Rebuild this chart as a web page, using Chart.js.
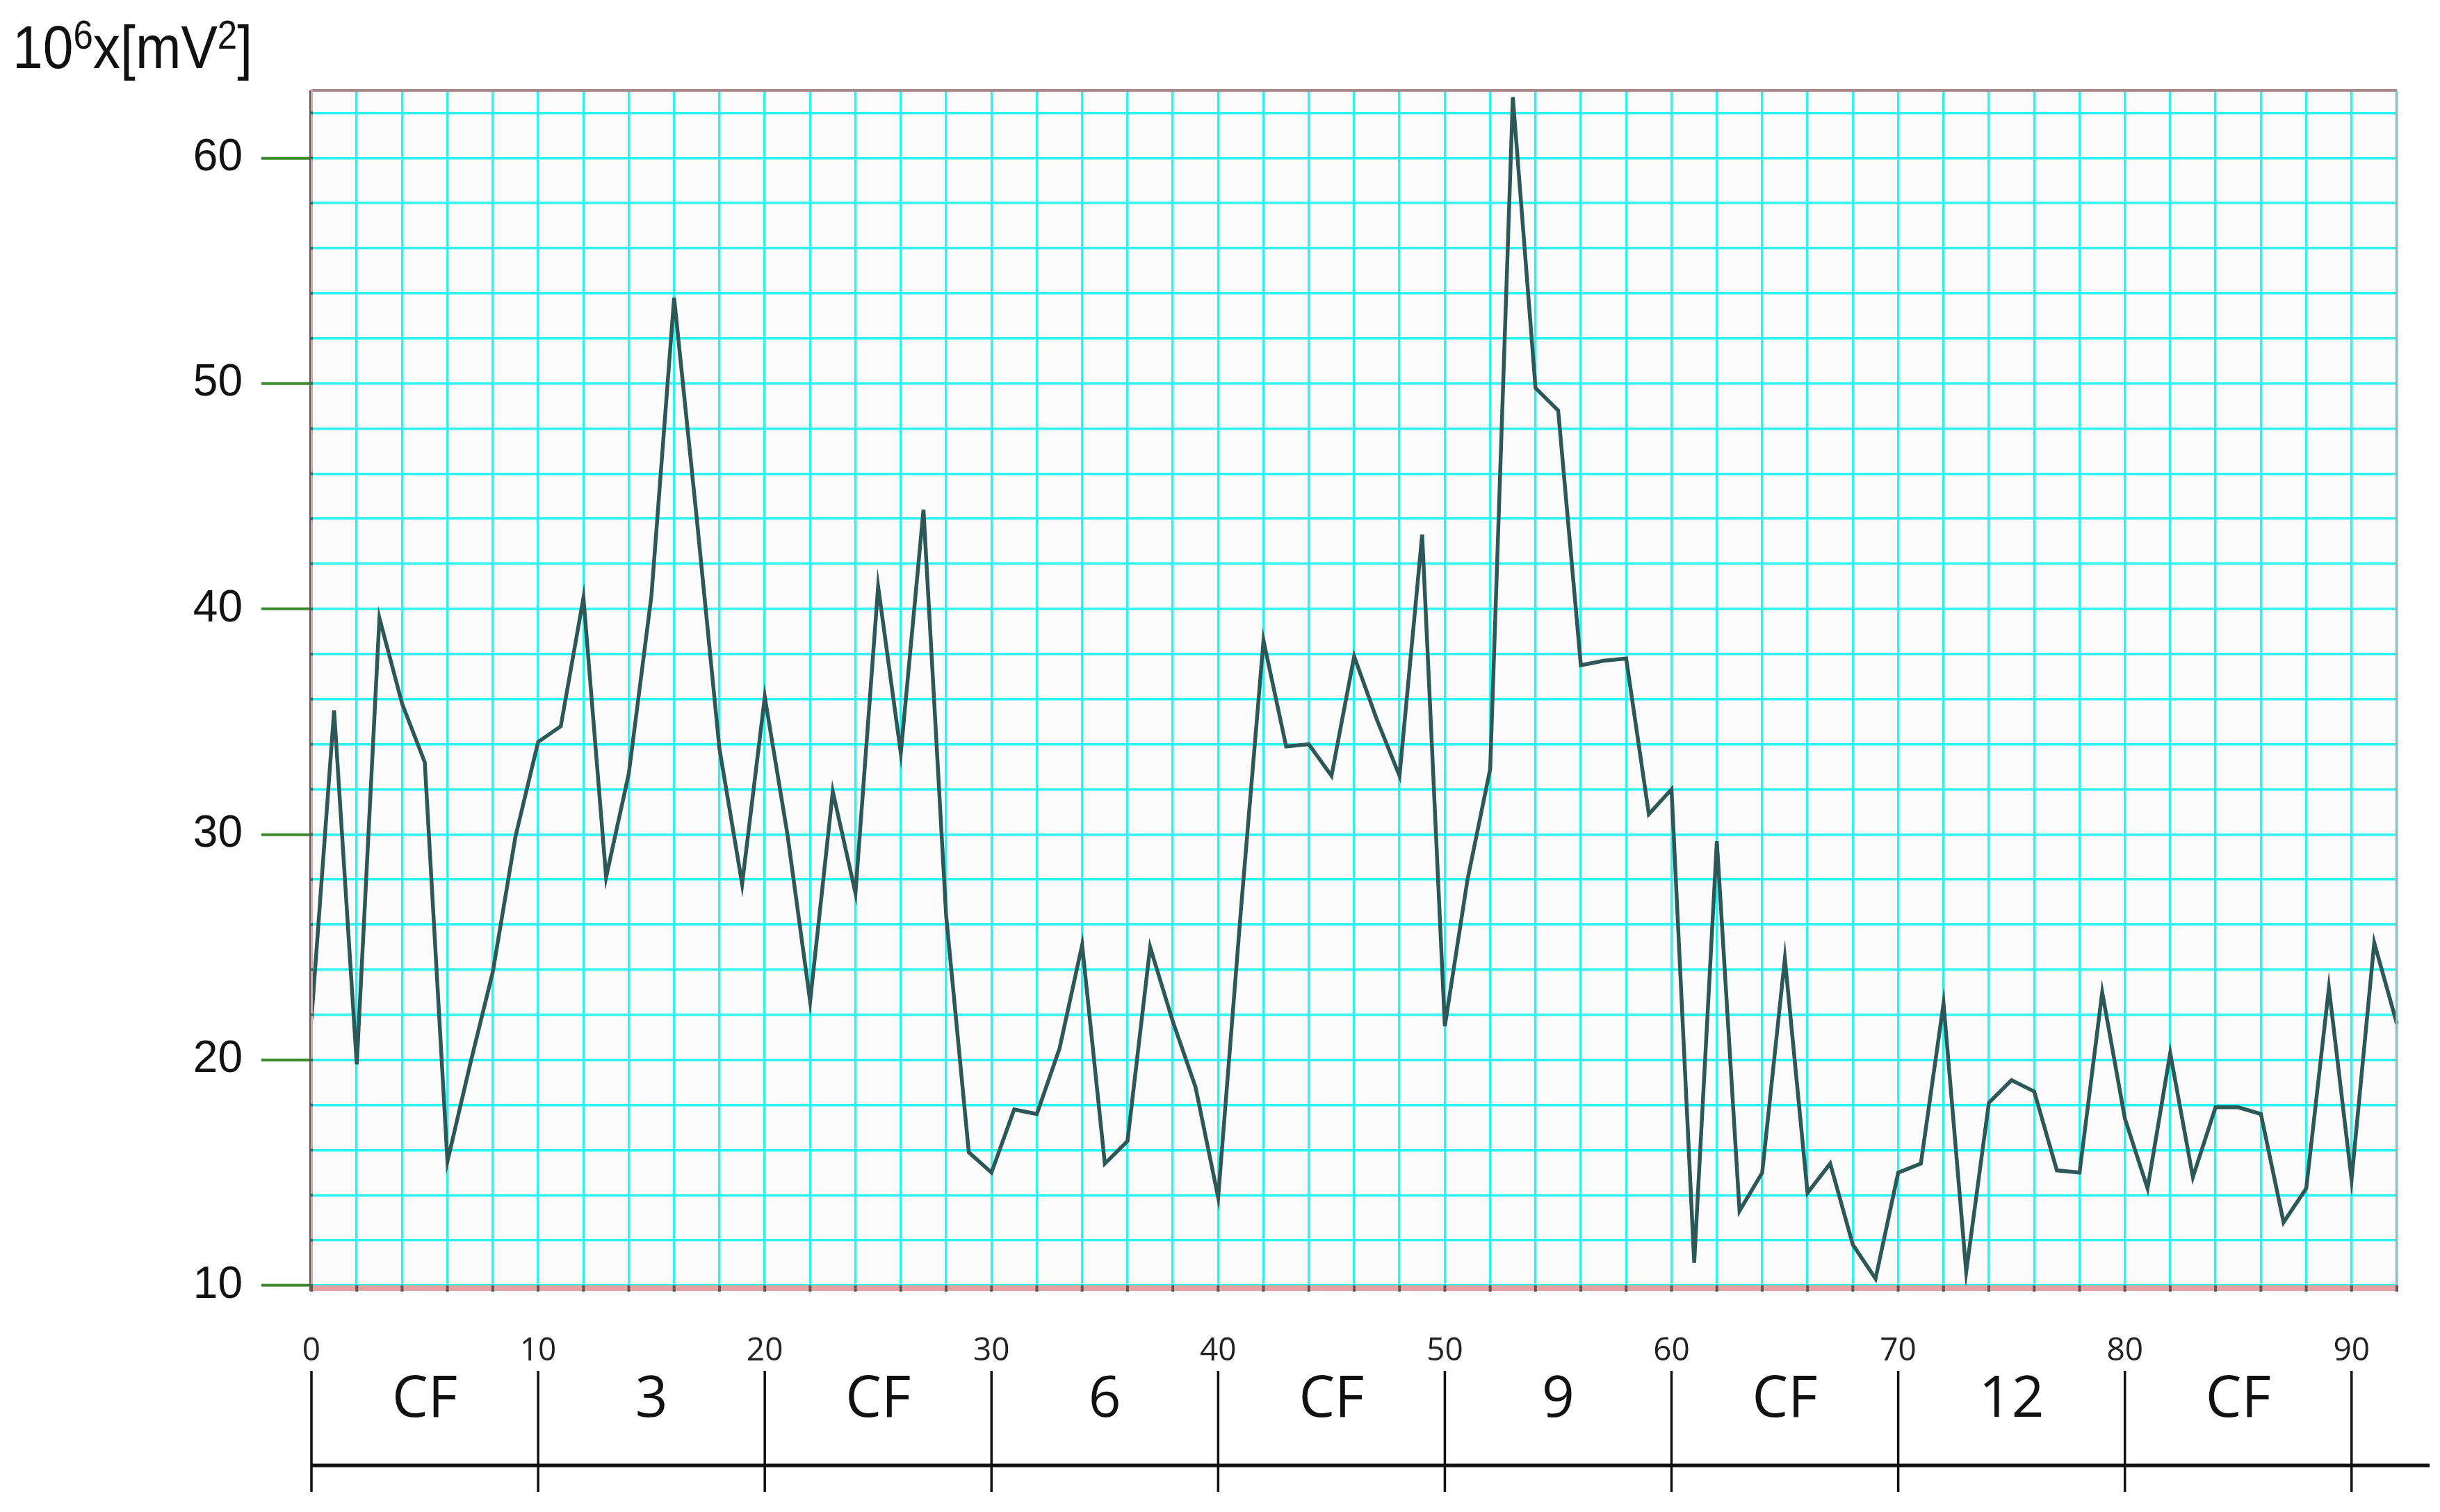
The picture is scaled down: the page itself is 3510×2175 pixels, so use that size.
<!DOCTYPE html>
<html lang="en">
<head>
  <meta charset="UTF-8" />
  <title>Signal power per sample</title>
  <script src="https://cdn.jsdelivr.net/npm/chart.js@4"></script>
  <style>
    * { margin: 0; padding: 0; box-sizing: border-box; }
    body { background: #ffffff; width: 3510px; height: 2175px; overflow: hidden; }
    .wrap { position: relative; width: 3510px; height: 2175px; }
  </style>
</head>
<body>
  <div class="wrap"><canvas id="powerChart"></canvas></div>

  <script>
    // power values, one per sample (10^6 x mV^2)
    const power = [
      21.8, 35.5, 19.8, 39.6, 35.8, 33.2, 15.5, 19.8, 23.9, 29.9,
      34.1, 34.8, 40.5, 28.1, 32.7, 40.6, 53.8, 44.0, 33.8, 27.8,
      36.1, 30.0, 22.6, 31.9, 27.4, 41.0, 33.6, 44.4, 26.4, 15.9,
      15.0, 17.8, 17.6, 20.5, 25.1, 15.4, 16.4, 25.0, 21.7, 18.8,
      13.9, 26.6, 38.6, 33.9, 34.0, 32.6, 37.9, 35.1, 32.6, 43.3,
      21.5, 28.0, 32.9, 62.7, 49.8, 48.8, 37.5, 37.7, 37.8, 30.9,
      32.0, 11.0, 29.7, 13.3, 15.0, 24.5, 14.1, 15.4, 11.8, 10.3,
      15.0, 15.4, 22.5, 10.6, 18.1, 19.1, 18.6, 15.1, 15.0, 23.0,
      17.4, 14.3, 20.3, 14.8, 17.9, 17.9, 17.6, 12.8, 14.3, 23.2,
      14.7, 25.2, 21.6
    ];

    // phase boundaries under the plot and the name of each phase
    const phaseBounds = [0, 10, 20, 30, 40, 50, 60, 70, 80, 90];
    const phaseNames = ['CF', '3', 'CF', '6', 'CF', '9', 'CF', '12', 'CF'];

    // labelled y values
    const yLabels = [10, 20, 30, 40, 50, 60];

    const points = power.map((v, i) => ({ x: i, y: v }));

    const lineColor = '#2c5957';
    const gridColor = '#2ef2f2';

    const paperPlugin = {
      id: 'paper',
      beforeDraw(chart) {
        const { ctx, chartArea: a } = chart;
        ctx.save();
        ctx.fillStyle = '#fbfbfb';
        ctx.fillRect(a.left, a.top, a.right - a.left, a.bottom - a.top);
        ctx.restore();
      },
      afterDraw(chart) {
        const { ctx, chartArea: a } = chart;
        const xs = chart.scales.x, ys = chart.scales.y;
        ctx.save();

        // frame
        ctx.fillStyle = '#a88a8a';
        ctx.fillRect(a.left, a.top - 2, a.right - a.left, 4);
        ctx.fillStyle = '#8cbcbc';
        ctx.fillRect(a.right - 2, a.top, 3, a.bottom - a.top);
        ctx.fillStyle = '#e6a2a2';
        ctx.fillRect(a.left, a.bottom, a.right - a.left, 8);
        ctx.fillRect(a.left - 3, a.top, 5, a.bottom - a.top + 8);
        ctx.fillStyle = '#5a5a5a';
        ctx.fillRect(a.left - 3, a.top, 2, a.bottom - a.top + 8);
        xs.ticks.forEach(t => {
          const px = xs.getPixelForValue(t.value);
          ctx.fillRect(px - 2, a.bottom, 4, 9);
        });
        ys.ticks.forEach(t => {
          const py = ys.getPixelForValue(t.value);
          ctx.fillRect(a.left - 3, py - 2, 5, 4);
        });

        // axis title 10^6x[mV^2]
        const parts = [
          { t: '10', size: 88, rise: 0 },
          { t: '6', size: 57, rise: 28 },
          { t: 'x[mV', size: 88, rise: 0 },
          { t: '2', size: 57, rise: 28 },
          { t: ']', size: 88, rise: 0 }
        ];
        let w = 0;
        parts.forEach(p => { ctx.font = p.size + 'px "Liberation Sans"'; p.w = ctx.measureText(p.t).width; w += p.w; });
        const sx = 345 / w;
        ctx.translate(18, 98);
        ctx.scale(sx, 1);
        ctx.fillStyle = '#111';
        ctx.textBaseline = 'alphabetic';
        ctx.textAlign = 'left';
        let cx = 0;
        parts.forEach(p => {
          ctx.font = p.size + 'px "Liberation Sans"';
          ctx.fillText(p.t, cx, -p.rise);
          cx += p.w;
        });
        ctx.setTransform(1, 0, 0, 1, 0, 0);

        // phase ruler under the plot
        ctx.strokeStyle = '#111';
        ctx.fillStyle = '#222';
        ctx.textAlign = 'center';
        ctx.textBaseline = 'middle';
        ctx.font = '46px "Open Sans"';
        phaseBounds.forEach(b => {
          const px = xs.getPixelForValue(b);
          ctx.fillText(String(b), px, 1944);
          ctx.lineWidth = 3.5;
          ctx.beginPath();
          ctx.moveTo(px, 1972);
          ctx.lineTo(px, 2146);
          ctx.stroke();
        });
        ctx.lineWidth = 5;
        ctx.beginPath();
        ctx.moveTo(xs.getPixelForValue(phaseBounds[0]), 2108);
        ctx.lineTo(3495, 2108);
        ctx.stroke();

        ctx.fillStyle = '#111';
        ctx.font = '82px "Open Sans"';
        phaseNames.forEach((n, i) => {
          const mid = (phaseBounds[i] + phaseBounds[i + 1]) / 2;
          ctx.fillText(n, xs.getPixelForValue(mid), 2015);
        });
        ctx.restore();
      }
    };

    new Chart(document.getElementById('powerChart'), {
      type: 'line',
      data: {
        datasets: [{
          data: points,
          borderColor: lineColor,
          borderWidth: 5.5,
          pointRadius: 0,
          tension: 0,
          borderJoinStyle: 'miter',
          clip: false
        }]
      },
      options: {
        responsive: true,
        maintainAspectRatio: false,
        animation: false,
        layout: { padding: { top: 130, right: 62, left: 0, bottom: 0 } },
        plugins: { legend: { display: false }, tooltip: { enabled: false } },
        scales: {
          x: {
            type: 'linear',
            min: 0,
            max: 92,
            afterFit(scale) { scale.height = 326; },
            border: { display: false },
            grid: { color: gridColor, lineWidth: 3.5, drawTicks: false },
            ticks: { display: false, stepSize: 2, autoSkip: false }
          },
          y: {
            min: 10,
            max: 63,
            afterFit(scale) { scale.width = 448; },
            border: { display: false },
            grid: {
              color: gridColor,
              lineWidth: 3.5,
              tickLength: 72,
              tickWidth: 4,
              tickColor: c => yLabels.includes(c.tick.value) ? '#3d8a2e' : 'rgba(0,0,0,0)'
            },
            ticks: {
              stepSize: 2,
              autoSkip: false,
              includeBounds: false,
              padding: 27,
              color: '#111',
              font: { family: '"Liberation Sans"', size: 64 },
              callback: v => yLabels.includes(v) ? String(v) : ''
            }
          }
        }
      },
      plugins: [paperPlugin]
    });
  </script>
</body>
</html>
